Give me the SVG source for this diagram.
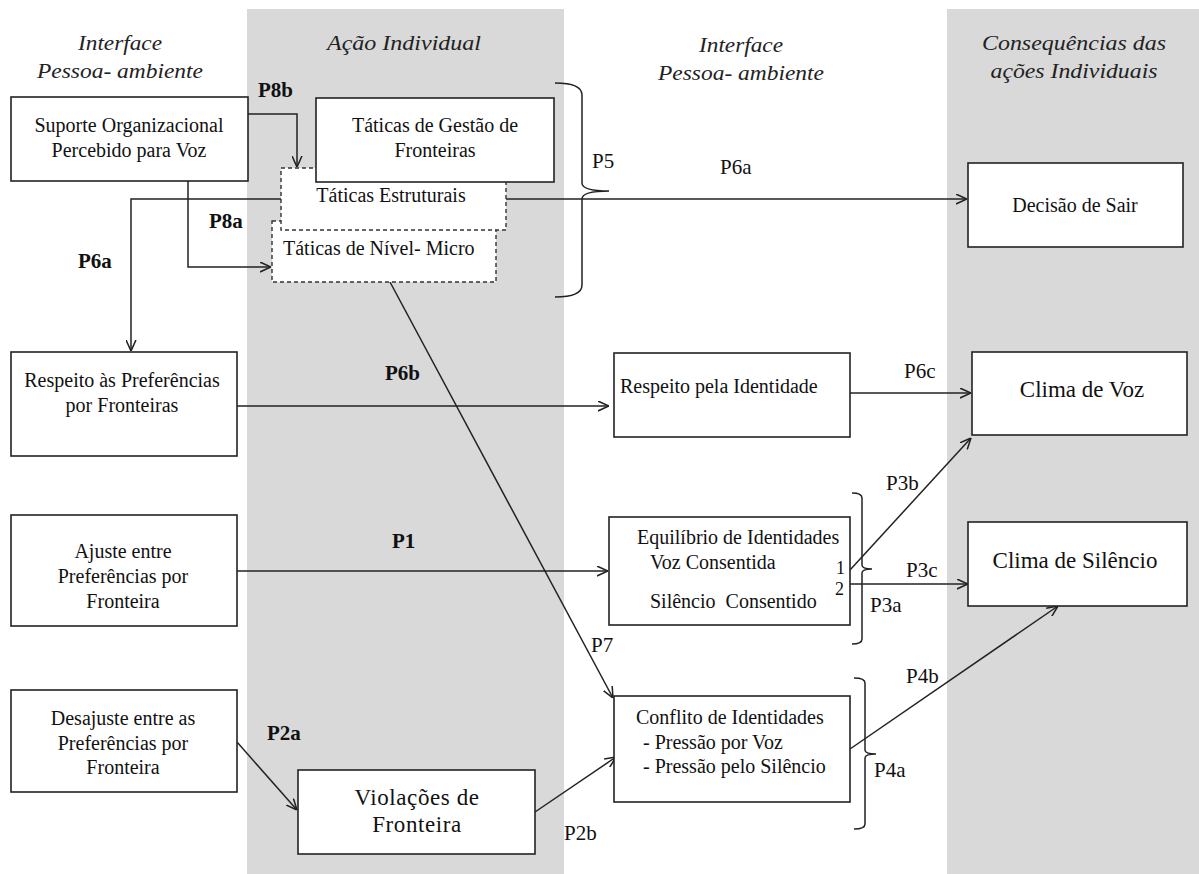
<svg xmlns="http://www.w3.org/2000/svg" width="1199" height="874" viewBox="0 0 1199 874">
<style>
.panel{fill:#d9d9d9}
.box{fill:#fff;stroke:#222;stroke-width:1.6}
.dbox{fill:#fff;stroke:#333;stroke-width:1.4;stroke-dasharray:4 3}
.t{font-family:"Liberation Serif","Times New Roman",serif;font-size:20px;fill:#111}
.c{text-anchor:middle}
.big{font-size:23px}
.hd{font-family:"Liberation Serif","Times New Roman",serif;font-style:italic;font-size:21px;fill:#222;text-anchor:middle}
.lb{font-family:"Liberation Serif","Times New Roman",serif;font-size:21px;fill:#111}
.b{font-weight:bold}
.ln{fill:none;stroke:#222;stroke-width:1.5}
.ar{marker-end:url(#a)}
.sm{font-family:"Liberation Serif","Times New Roman",serif;font-size:18px;fill:#111}
</style>
<defs>
<marker id="a" viewBox="0 0 10 10" refX="10" refY="5" markerWidth="11" markerHeight="11" markerUnits="userSpaceOnUse" orient="auto">
<path d="M0,0.5 L10,5 L0,9.5" fill="none" stroke="#222" stroke-width="1.4"/>
</marker>
</defs>
<rect width="1199" height="874" fill="#fff"/>
<g id="panels">
<rect class="panel" x="247" y="9" width="317" height="865"/>
<rect class="panel" x="947" y="9" width="252" height="865"/>
</g>
<g id="headers">
<text class="hd" x="120" y="50" textLength="84" lengthAdjust="spacingAndGlyphs">Interface</text>
<text class="hd" x="120" y="78" textLength="166" lengthAdjust="spacingAndGlyphs">Pessoa- ambiente</text>
<text class="hd" x="404" y="50" textLength="154" lengthAdjust="spacingAndGlyphs">Ação Individual</text>
<text class="hd" x="741" y="52" textLength="84" lengthAdjust="spacingAndGlyphs">Interface</text>
<text class="hd" x="741" y="80" textLength="166" lengthAdjust="spacingAndGlyphs">Pessoa- ambiente</text>
<text class="hd" x="1074" y="50" textLength="184" lengthAdjust="spacingAndGlyphs">Consequências das</text>
<text class="hd" x="1074" y="78" textLength="167" lengthAdjust="spacingAndGlyphs">ações Individuais</text>
</g>
<g id="connectors">
<polyline class="ln ar" points="248,114 297,114 297,167"/>
<polyline class="ln ar" points="188,181 188,267 271,267"/>
<polyline class="ln ar" points="281,199 131,199 131,351"/>
<line class="ln ar" x1="506" y1="199" x2="967" y2="199"/>
<line class="ln ar" x1="390" y1="282" x2="613" y2="698"/>
<line class="ln ar" x1="237" y1="406" x2="609" y2="406"/>
<line class="ln ar" x1="850" y1="393" x2="971" y2="393"/>
<line class="ln ar" x1="237" y1="571" x2="608" y2="571"/>
<line class="ln ar" x1="850" y1="570" x2="971" y2="438"/>
<line class="ln ar" x1="850" y1="584" x2="968" y2="584"/>
<line class="ln ar" x1="237" y1="742" x2="297" y2="810"/>
<line class="ln ar" x1="535" y1="812" x2="616" y2="757"/>
<line class="ln ar" x1="850" y1="749" x2="1058" y2="606"/>
<path class="ln" d="M555,83 Q582,83 582,95 L582,183 Q582,191 609,191 Q582,191 582,199 L582,285 Q582,297 555,297"/>
<path class="ln" d="M852,493 Q862,493 862,498 L862,565 Q862,569 872,569 Q862,569 862,573 L862,639 Q862,644 852,644"/>
<path class="ln" d="M854,678 Q865,678 865,683 L865,750 Q865,754 876,754 Q865,754 865,758 L865,824 Q865,829 854,829"/>
</g>
<g id="suporte">
<rect class="box" x="11" y="97" width="237" height="84"/>
<text class="t c" x="129" y="132">Suporte Organizacional</text>
<text class="t c" x="129" y="157">Percebido para Voz</text>
</g>
<g id="micro">
<rect class="dbox" x="272" y="221" width="224" height="61"/>
<text class="t" x="283" y="255">Táticas de Nível- Micro</text>
</g>
<g id="estruturais">
<rect class="dbox" x="281" y="168" width="225" height="62"/>
<text class="t c" x="391" y="202">Táticas Estruturais</text>
</g>
<g id="gestao">
<rect class="box" x="316" y="98" width="238" height="84"/>
<text class="t c" x="435" y="132">Táticas de Gestão de</text>
<text class="t c" x="435" y="157">Fronteiras</text>
</g>
<g id="decisao">
<rect class="box" x="968" y="163" width="215" height="84"/>
<text class="t c" x="1075" y="212">Decisão de Sair</text>
</g>
<g id="respeito-pref">
<rect class="box" x="11" y="352" width="226" height="104"/>
<text class="t c" x="122" y="387">Respeito às Preferências</text>
<text class="t c" x="122" y="412">por Fronteiras</text>
</g>
<g id="respeito-id">
<rect class="box" x="614" y="353" width="236" height="84"/>
<text class="t" x="620" y="393">Respeito pela Identidade</text>
</g>
<g id="clima-voz">
<rect class="box" x="972" y="352" width="215" height="83"/>
<text class="t c big" x="1082" y="397">Clima de Voz</text>
</g>
<g id="ajuste">
<rect class="box" x="11" y="515" width="226" height="111"/>
<text class="t c" x="123" y="558">Ajuste entre</text>
<text class="t c" x="123" y="583">Preferências por</text>
<text class="t c" x="123" y="608">Fronteira</text>
</g>
<g id="equilibrio">
<rect class="box" x="609" y="517" width="241" height="108"/>
<text class="t" x="637" y="544">Equilíbrio de Identidades</text>
<text class="t" x="650" y="569">Voz Consentida</text>
<text class="t" x="650" y="608" xml:space="preserve">Silêncio  Consentido</text>
<text class="sm" x="836" y="574">1</text>
<text class="sm" x="835" y="595">2</text>
</g>
<g id="clima-silencio">
<rect class="box" x="968" y="522" width="219" height="84"/>
<text class="t c big" x="1075" y="568">Clima de Silêncio</text>
</g>
<g id="desajuste">
<rect class="box" x="11" y="690" width="226" height="102"/>
<text class="t c" x="123" y="725">Desajuste entre as</text>
<text class="t c" x="123" y="750">Preferências por</text>
<text class="t c" x="123" y="774">Fronteira</text>
</g>
<g id="violacoes">
<rect class="box" x="298" y="770" width="237" height="84"/>
<text class="t c big" x="417" y="805" letter-spacing="0.6">Violações de</text>
<text class="t c big" x="417" y="832" letter-spacing="0.6">Fronteira</text>
</g>
<g id="conflito">
<rect class="box" x="614" y="696" width="236" height="106"/>
<text class="t" x="636" y="724">Conflito de Identidades</text>
<text class="t" x="643" y="749">- Pressão por Voz</text>
<text class="t" x="643" y="773">- Pressão pelo Silêncio</text>
</g>
<g id="labels">
<text class="lb b" x="258" y="97">P8b</text>
<text class="lb b" x="209" y="228">P8a</text>
<text class="lb b" x="78" y="268">P6a</text>
<text class="lb" x="592" y="168">P5</text>
<text class="lb" x="720" y="174">P6a</text>
<text class="lb b" x="385" y="380">P6b</text>
<text class="lb" x="904" y="378">P6c</text>
<text class="lb" x="886" y="490">P3b</text>
<text class="lb b" x="392" y="548">P1</text>
<text class="lb" x="906" y="577">P3c</text>
<text class="lb" x="870" y="612">P3a</text>
<text class="lb" x="591" y="652">P7</text>
<text class="lb" x="906" y="683">P4b</text>
<text class="lb b" x="267" y="740">P2a</text>
<text class="lb" x="874" y="777">P4a</text>
<text class="lb" x="564" y="840">P2b</text>
</g>
</svg>
